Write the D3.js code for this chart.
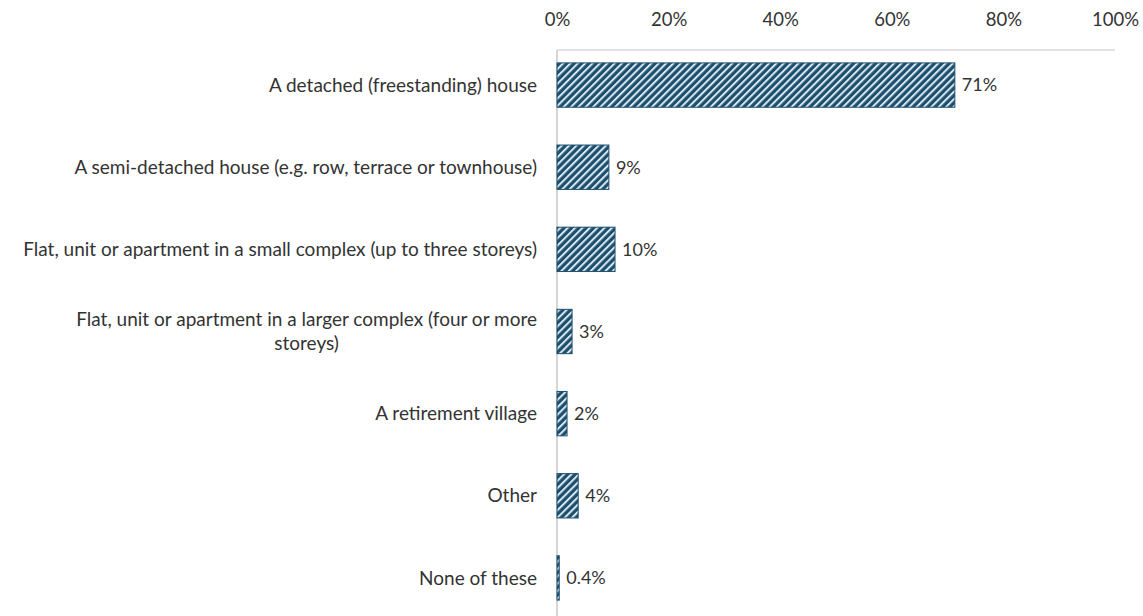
<!DOCTYPE html>
<html>
<head>
<meta charset="utf-8">
<script src="https://cdn.jsdelivr.net/npm/d3@7"></script>
<style>
  html, body { margin: 0; padding: 0; background: #fff; }
  svg { display: block; font-family: Lato, "Open Sans", sans-serif; }
</style>
</head>
<body>
<svg id="chart" width="1143" height="616"></svg>
<script>
const categories = [
  "A detached (freestanding) house",
  "A semi-detached house (e.g. row, terrace or townhouse)",
  "Flat, unit or apartment in a small complex (up to three storeys)",
  "Flat, unit or apartment in a larger complex (four or more|storeys)",
  "A retirement village",
  "Other",
  "None of these"
];
const values = [71.3, 9.3, 10.4, 2.7, 1.8, 3.8, 0.4];
const tickValues = [0, 20, 40, 60, 80, 100];

const svg = d3.select("#chart");
const W = 1143, H = 616;
const margin = { left: 557, right: 28, top: 50 };

const x = d3.scaleLinear().domain([0, 100]).range([margin.left, W - margin.right]);
const y = d3.scaleBand().domain(categories).range([44, 619]).paddingInner(0.46).paddingOuter(0.23);

const defs = svg.append("defs");
const pat = defs.append("pattern")
  .attr("id", "hatch")
  .attr("patternUnits", "userSpaceOnUse")
  .attr("width", 5.2).attr("height", 5.2)
  .attr("patternTransform", "rotate(45)");
pat.append("rect").attr("width", 5.2).attr("height", 5.2).attr("fill", "#1c4f6e");
pat.append("rect").attr("x", 0).attr("width", 2).attr("height", 5.2).attr("fill", "#d9e7ef");

// top axis line and left axis line
svg.append("line")
  .attr("x1", x(0)).attr("x2", x(100))
  .attr("y1", margin.top).attr("y2", margin.top)
  .attr("stroke", "#c8c8c8").attr("stroke-width", 1.2);
svg.append("line")
  .attr("x1", x(0)).attr("x2", x(0))
  .attr("y1", margin.top).attr("y2", H)
  .attr("stroke", "#c8c8c8").attr("stroke-width", 1.5);

// tick labels via axis
const axis = d3.axisTop(x).tickValues(tickValues).tickFormat(d => d + "%").tickSize(0).tickPadding(0);
const ag = svg.append("g").attr("transform", "translate(0,26)").call(axis);
ag.select(".domain").remove();
ag.selectAll("text").attr("font-size", 18.5).attr("fill", "#333")
  .attr("font-family", "Lato, 'Open Sans', sans-serif");

// bars
svg.append("g").selectAll("rect").data(values).join("rect")
  .attr("x", x(0))
  .attr("y", (d, i) => y(categories[i]))
  .attr("width", d => x(d) - x(0))
  .attr("height", y.bandwidth())
  .attr("fill", "url(#hatch)")
  .attr("stroke", "#1c4f6e").attr("stroke-width", 1);

// value labels
const fmt = d => (d < 1 ? d.toFixed(1) : Math.round(d)) + "%";
svg.append("g").selectAll("text").data(values).join("text")
  .attr("x", d => x(d) + 7)
  .attr("y", (d, i) => y(categories[i]) + y.bandwidth() / 2)
  .attr("dy", "0.35em")
  .attr("font-size", 18).attr("fill", "#333")
  .text(fmt);

// category labels
const lg = svg.append("g");
categories.forEach((c, i) => {
  const lines = c.split("|");
  const cy = y(c) + y.bandwidth() / 2;
  const lh = 24.5;
  const t = lg.append("text").attr("font-size", 19).attr("fill", "#333");
  const spans = lines.map((l, k) => t.append("tspan").text(l));
  const widths = spans.map(s => s.node().getComputedTextLength());
  const maxW = d3.max(widths);
  const right = 537;
  const centerX = right - maxW / 2;
  spans.forEach((s, k) => {
    s.attr("x", lines.length > 1 ? centerX : right)
     .attr("text-anchor", lines.length > 1 ? "middle" : "end")
     .attr("y", cy + (k - (lines.length - 1) / 2) * lh)
     .attr("dy", "0.35em");
  });
});
</script>
</body>
</html>
